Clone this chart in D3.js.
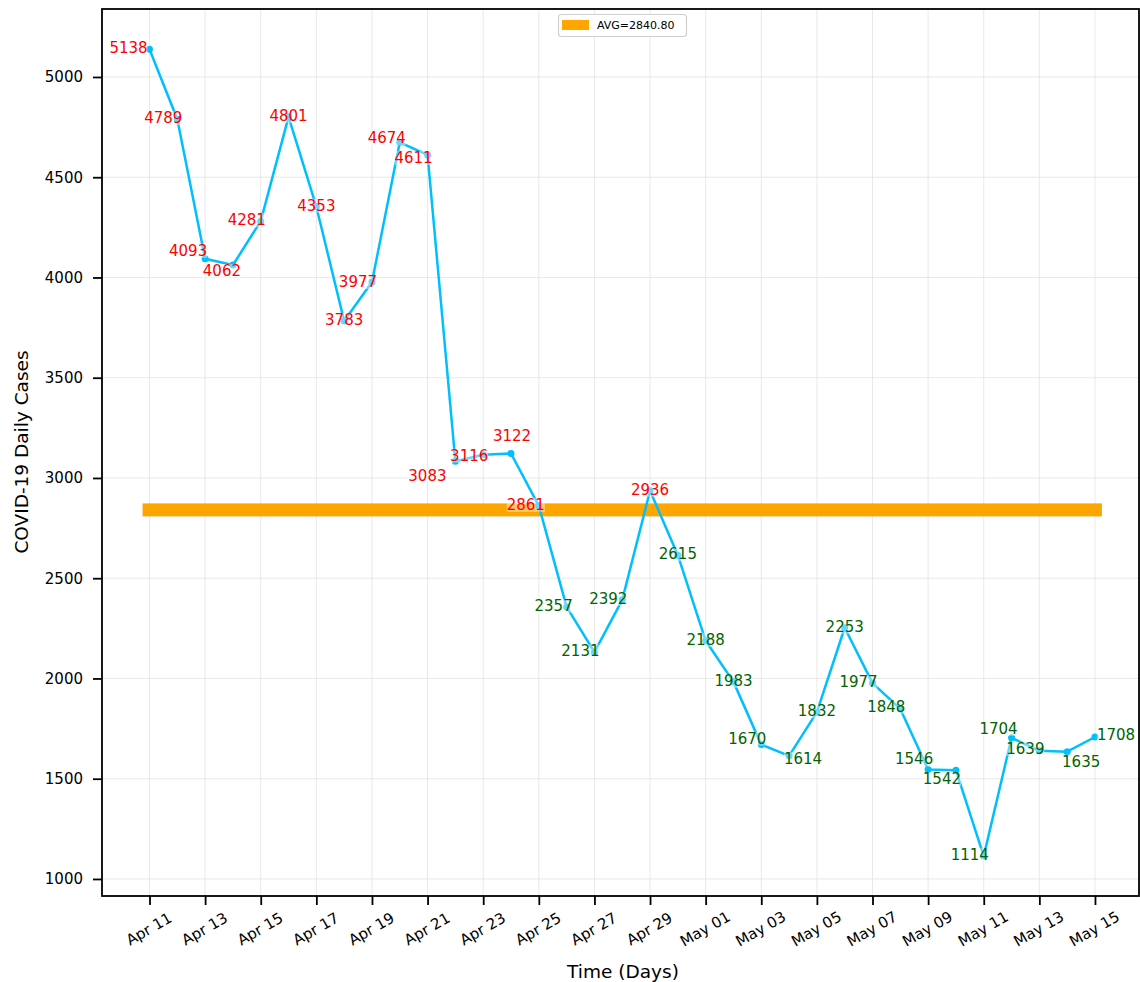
<!DOCTYPE html>
<html><head><meta charset="utf-8">
<script src="https://cdn.jsdelivr.net/npm/d3@7"></script>
<style>body{margin:0;background:#fff}svg{display:block}text{font-family:"DejaVu Sans",sans-serif}</style>
</head><body><svg id="c" width="1140" height="982"></svg>
<script>
const startDate = "2020-04-11";
const cases = [5138,4789,4093,4062,4281,4801,4353,3783,3977,4674,4611,3083,3116,3122,2861,2357,2131,2392,2936,2615,2188,1983,1670,1614,1832,2253,1977,1848,1546,1542,1114,1704,1639,1635,1708];
const yTicks = [1000,1500,2000,2500,3000,3500,4000,4500,5000];
const avgLabel = "AVG=2840.80";
// label offsets in px (dx, dy) from each point (annotation layout)
const labelOffsets = [[-21,-1],[-14,-1],[-17,-8],[-11,6],[-14,-1],[0,-1],[0,-1],[0,-1],[-14,0],[-13,-4],[-14,3],[-28,15],[-14,1],[1,-18],[-13,-1],[-13,-1],[-14,-1],[-14,-1],[0,-1],[0,-1],[0,-1],[0,-1],[-14,-6],[14,3],[0,-1],[0,-1],[-14,-1],[-14,-2],[-14,-10],[-14,9],[-14,-1],[-13,-9],[-14,-2],[14,10],[21,-2]];

const parse = d3.utcParse("%Y-%m-%d");
const d0 = parse(startDate);
const data = cases.map((v,i)=>({date:d3.utcDay.offset(d0,i), v}));
const avg = d3.mean(cases);

const svg = d3.select("#c");
const L=102,R=1139,T=9,B=896;
const x = d3.scaleUtc().domain([d3.utcHour.offset(d0,-1.69*24), d3.utcHour.offset(d0,35.59*24)]).range([L,R]);
const y = d3.scaleLinear().domain([915,5339]).range([B,T]);

const xTicks = d3.range(0,35,2).map(i=>d3.utcDay.offset(d0,i));
const fmt = d3.utcFormat("%b %d");

// grid
const g = svg.append("g");
g.selectAll(".vg").data(xTicks).join("line").attr("x1",d=>x(d)).attr("x2",d=>x(d)).attr("y1",T).attr("y2",B).attr("stroke","#e3e3e3").attr("stroke-width",0.8);
g.selectAll(".hg").data(yTicks).join("line").attr("x1",L).attr("x2",R).attr("y1",d=>y(d)).attr("y2",d=>y(d)).attr("stroke","#e3e3e3").attr("stroke-width",0.8);

// avg bar
svg.append("rect").attr("x",x(d3.utcHour.offset(d0,-0.22*24))).attr("width",x(d3.utcHour.offset(d0,34.25*24))-x(d3.utcHour.offset(d0,-0.22*24)))
  .attr("y",y(avg)-6.5).attr("height",13).attr("fill","#FFA500");

// line
svg.append("path").datum(data).attr("fill","none").attr("stroke","#00BFFF").attr("stroke-width",2.5).attr("stroke-linejoin","round")
  .attr("d",d3.line().x(d=>x(d.date)).y(d=>y(d.v)));
svg.selectAll(".pt").data(data).join("circle").attr("cx",d=>x(d.date)).attr("cy",d=>y(d.v)).attr("r",3.5).attr("fill","#00BFFF");

// labels
const lg = svg.append("g");
data.forEach((d,i)=>{
  const cx = x(d.date)+labelOffsets[i][0], cy = y(d.v)+labelOffsets[i][1];
  const col = d.v>avg ? "#FF0000" : "#006400";
  const t = lg.append("text").attr("x",cx).attr("y",cy).attr("text-anchor","middle").attr("dominant-baseline","central")
    .attr("font-size",15).attr("fill",col).text(d.v);
  const bb = t.node().getBBox();
  lg.insert("rect","text:last-child").attr("x",bb.x).attr("y",bb.y+2).attr("width",bb.width).attr("height",bb.height-4).attr("fill","#fff").attr("opacity",0.4);
});

// axes
const ax = svg.append("g").attr("transform",`translate(0,${B})`)
  .call(d3.axisBottom(x).tickValues(xTicks).tickFormat(fmt).tickSize(9).tickPadding(4));
ax.select(".domain").remove();
ax.selectAll("line").attr("stroke","#000").attr("stroke-width",1.8);
ax.selectAll("text").attr("font-size",15).attr("fill","#000").attr("text-anchor","middle")
  .attr("dy",null).attr("y",0).attr("transform","translate(-1,33) rotate(-30)").attr("dominant-baseline","central");

const ay = svg.append("g").attr("transform",`translate(${L},0)`)
  .call(d3.axisLeft(y).tickValues(yTicks).tickFormat(d3.format("d")).tickSize(9).tickPadding(10));
ay.select(".domain").remove();
ay.selectAll("line").attr("stroke","#000").attr("stroke-width",1.8);
ay.selectAll("text").attr("font-size",15).attr("fill","#000");

svg.append("rect").attr("x",L).attr("y",T).attr("width",R-L).attr("height",B-T).attr("fill","none").attr("stroke","#000").attr("stroke-width",1.8);

svg.append("text").attr("x",623).attr("y",978).attr("text-anchor","middle").attr("font-size",18.5).attr("fill","#000").text("Time (Days)");
svg.append("text").attr("transform","translate(28,452) rotate(-90)").attr("text-anchor","middle").attr("font-size",18.5).attr("fill","#000").text("COVID-19 Daily Cases");

// legend
const leg = svg.append("g");
leg.append("rect").attr("x",558.5).attr("y",14.5).attr("width",128).attr("height",22).attr("rx",3).attr("fill","#fff").attr("stroke","#d0d0d0").attr("stroke-width",1.2);
leg.append("rect").attr("x",562).attr("y",20).attr("width",27).attr("height",10).attr("fill","#FFA500");
leg.append("text").attr("x",597).attr("y",25.5).attr("dominant-baseline","central").attr("font-size",11).attr("fill","#000").text(avgLabel);
</script></body></html>
